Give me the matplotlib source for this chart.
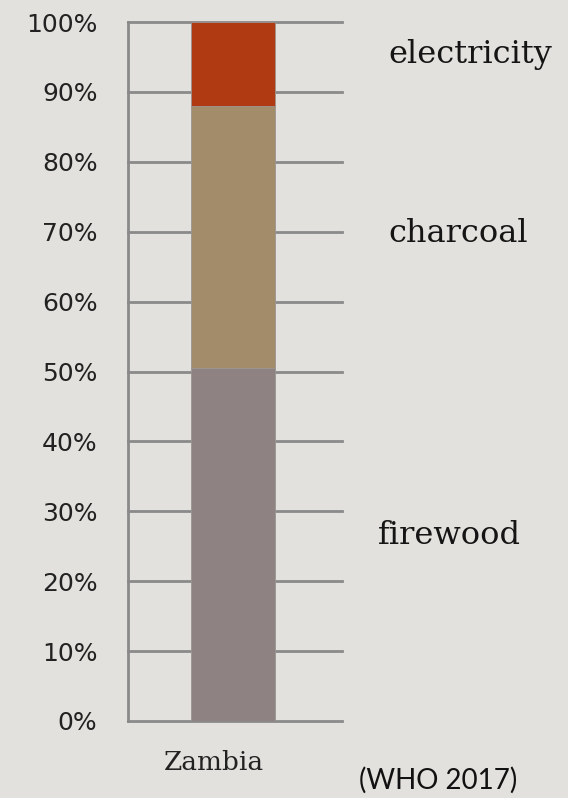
import matplotlib.pyplot as plt
import numpy as np

# household cooking fuel shares, Zambia
countries = ['Zambia']
fuels = ['firewood', 'charcoal', 'electricity']
shares = [50.5, 37.5, 12.0]
colours = ['#8e8382', '#a38c6a', '#b03a12']
label_y = [25.3, 68.5, 94.2]
label_x = [1.38, 1.476, 1.476]
yticks = np.arange(0, 101, 10)

bg = '#e3e1dd'
fig = plt.figure(figsize=(5.68, 7.98), dpi=100, facecolor=bg)
ax = fig.add_axes([0.2254, 0.0965, 0.3768, 0.8759], facecolor=bg)

bottom = 0
for fuel, val, col in zip(fuels, shares, colours):
    ax.bar(0, val, width=0.8, bottom=bottom, color=col, edgecolor='#9a9590',
           linewidth=0.6, zorder=3)
    bottom += val

for fuel, ly, lx in zip(fuels, label_y, label_x):
    ax.text(lx, ly, fuel, fontsize=23, family='DejaVu Serif', color='#151515',
            va='baseline', ha='left', clip_on=False)

ax.set_xlim(-1.0, 1.038)
ax.set_ylim(0, 100)
ax.set_yticks(yticks)
ax.set_yticklabels([f'{t}%' for t in yticks], family='DejaVu Sans', fontsize=18,
                   color='#222222')
ax.tick_params(axis='y', length=0, pad=22)
ax.set_xticks([])
ax.grid(axis='y', color='#8a8a8a', linewidth=2, zorder=1)
for gl in ax.get_ygridlines():
    gl.set_clip_on(False)
for s in ['top', 'right', 'bottom']:
    ax.spines[s].set_visible(False)
ax.spines['left'].set_color('#8a8a8a')
ax.spines['left'].set_linewidth(2)

ax.text(-0.18, -7.0, countries[0], fontsize=19, family='DejaVu Serif', color='#222222',
        ha='center', va='baseline', clip_on=False)
fig.text(517 / 568, 0.012, '(WHO 2017)', fontsize=20, family='Lato', color='#111111',
         ha='right', va='baseline')

fig.savefig('out.png', dpi=100, facecolor=bg)
